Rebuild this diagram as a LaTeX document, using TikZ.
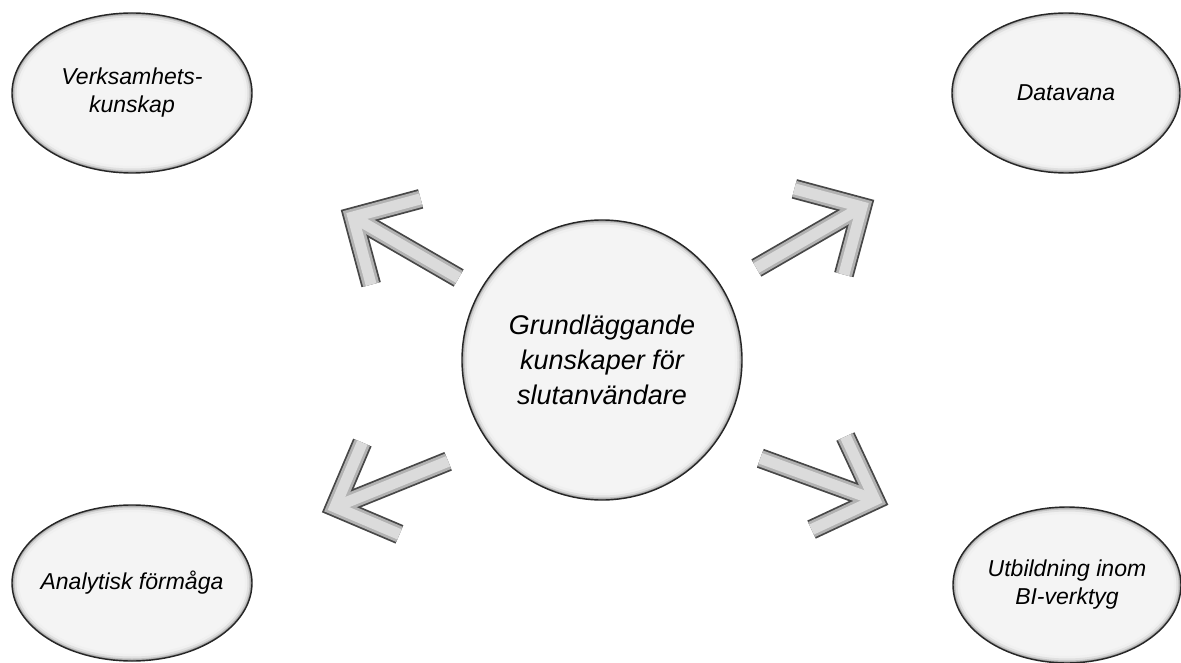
\documentclass[tikz,border=0pt]{standalone}
\usepackage{fontspec}
\setmainfont{Liberation Sans}
\usetikzlibrary{shapes.geometric}
\definecolor{bubblefill}{HTML}{F4F4F4}
\newcommand{\bentarrow}[2]{%
  \foreach \lw/\col in {20/black!72, 16.5/black!30, 11/black!14} {
    \draw[line width=\lw pt, draw=\col, line join=miter, miter limit=10]
      (#1) ++({#2+45}:70) -- (#1) -- ++({#2-45}:70);
    \draw[line width=\lw pt, draw=\col] (#1) -- ++(#2:122);
  }}
\begin{document}
\begin{tikzpicture}[x=1pt,y=-1pt,
  bubble/.style 2 args={ellipse, minimum width={2*#1pt}, minimum height={2*#2pt},
    inner ysep=0pt, inner xsep=-30pt, fill=bubblefill, draw=black!85, line width=1.4pt,
    align=center, font=\fontsize{23}{28}\selectfont\itshape,
    path picture={
      \foreach \w/\c in {14/6, 9/12, 5/24, 2.5/42}{
        \draw[line width=\w pt, draw=black!\c]
          (path picture bounding box.center) ellipse [x radius=#1, y radius=#2];}
    }},
  ]
\useasboundingbox (0,0) rectangle (1181,663);

\node[bubble={120}{80}] (verk) at (132,93) {Verksamhets-\\kunskap};
\node[bubble={114}{80}] (data) at (1066,93) {Datavana};
\node[bubble={120}{78}] (anal) at (132,583) {Analytisk förmåga};
\node[bubble={114}{78}] (utb) at (1067,585) {Utbildning inom\\BI-verktyg};
\node[bubble={140}{140}, font=\fontsize{27}{35}\selectfont\itshape] (core) at (602,360)
  {Grundläggande\\kunskaper för\\slutanvändare};

\coordinate (tltip) at (353,217);
\coordinate (trtip) at (862,207);
\coordinate (bltip) at (335,507);
\coordinate (brtip) at (875,500);
\bentarrow{tltip}{30}
\bentarrow{trtip}{150}
\bentarrow{bltip}{-22}
\bentarrow{brtip}{200}
\end{tikzpicture}
\end{document}
